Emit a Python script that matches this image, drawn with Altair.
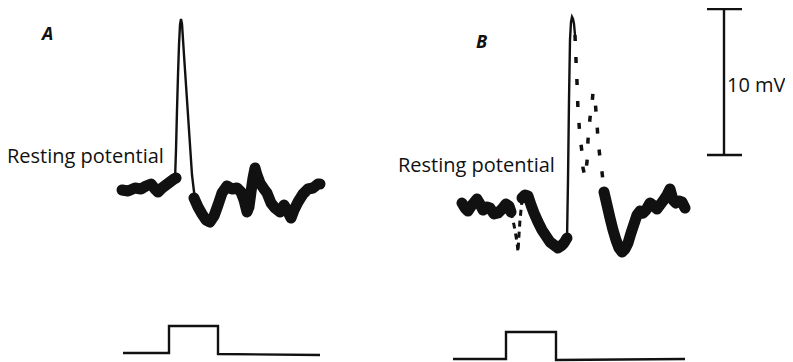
import altair as alt
import pandas as pd

# ---- traces (time axis in arbitrary units, potential in picture units) ----
a_base1_t = [122, 128, 135, 141, 146, 151, 155, 158, 162, 166, 170, 174, 176]
a_base1_v = [190, 191, 188, 189, 186, 184, 189, 192, 188, 185, 182, 179, 178]

a_spike_t = [175, 176, 177, 178, 179, 180, 181, 182, 184, 188, 192, 195]
a_spike_v = [180, 150, 110, 75, 45, 25, 19, 24, 55, 115, 175, 200]

a_base2_t = [194, 198, 202, 206, 210, 214, 218, 222, 227, 232, 237, 241, 244, 247, 249, 251, 253, 255,
             257, 260, 264, 267, 271, 275, 280, 284, 288, 291, 294, 298, 303, 308, 313, 318, 320]
a_base2_v = [198, 207, 214, 220, 222, 216, 205, 193, 186, 189, 188, 192, 200, 212, 207, 192, 178, 168,
             175, 183, 189, 193, 203, 208, 212, 205, 212, 218, 210, 202, 194, 189, 188, 184, 184]

b_base1_t = [462, 465, 468, 472, 477, 480, 483, 487, 490, 494, 498, 502, 506, 509, 511]
b_base1_v = [203, 208, 211, 205, 199, 204, 210, 207, 208, 214, 213, 209, 204, 206, 212]

b_fast_t = [511, 514, 517, 518, 519, 520, 522]
b_fast_v = [212, 225, 242, 252, 235, 220, 200]

b_base2_t = [522, 525, 528, 531, 534, 538, 542, 546, 550, 554, 558, 561, 564, 567]
b_base2_v = [198, 195, 196, 205, 213, 222, 230, 236, 242, 245, 248, 246, 243, 238]

b_spike_t = [567, 568, 569, 570, 571, 572, 573, 574, 575]
b_spike_v = [240, 180, 100, 40, 22, 17, 19, 24, 35]

b_dots_t = [575, 576, 577, 578, 580, 582, 583, 585, 587, 588, 590, 592, 593, 595, 596, 597, 598, 600, 602, 604]
b_dots_v = [35, 60, 82, 110, 137, 152, 168, 177, 162, 140, 118, 105, 92, 98, 112, 123, 140, 158, 172, 190]

b_base3_t = [604, 607, 610, 613, 616, 619, 622, 625, 628, 631, 634, 637, 640, 643, 646, 650, 654, 657,
             660, 663, 667, 670, 673, 676, 679, 682, 685]
b_base3_v = [192, 205, 218, 230, 240, 248, 252, 249, 243, 233, 224, 215, 211, 213, 210, 203, 206, 209,
             205, 201, 195, 189, 200, 203, 201, 202, 208]

# stimulus steps
a_step_t = [123, 169, 169, 218, 218, 320]
a_step_v = [353, 353, 326, 326, 354, 355]
b_step_t = [453, 506, 506, 556, 556, 685]
b_step_v = [359, 359, 332, 332, 360, 359]

# 10 mV calibration bar
cal_t = [724, 724]
cal_v = [9, 155]
cap_t = [707, 742]

# labels (anchored at text baseline)
label_text = ["A", "B", "Resting potential", "Resting potential", "10 mV"]
label_t = [42, 476, 7, 398, 727]
label_v = [40, 48, 163, 172, 92]


def seg(name, ts, vs):
    return pd.DataFrame({"seg": name, "o": range(len(ts)), "t": ts, "v": vs})


thick = pd.concat([seg("a1", a_base1_t, a_base1_v), seg("a2", a_base2_t, a_base2_v),
                   seg("b1", b_base1_t, b_base1_v), seg("b2", b_base2_t, b_base2_v),
                   seg("b3", b_base3_t, b_base3_v)])
thin = pd.concat([seg("as", a_spike_t, a_spike_v), seg("bs", b_spike_t, b_spike_v),
                  seg("sa", a_step_t, a_step_v), seg("sb", b_step_t, b_step_v),
                  seg("cal", cal_t, cal_v),
                  seg("cap1", cap_t, [cal_v[0]] * 2), seg("cap2", cap_t, [cal_v[1]] * 2)])
fast = seg("bf", b_fast_t, b_fast_v)
dots = seg("bd", b_dots_t, b_dots_v)
labels = pd.DataFrame({"txt": label_text, "t": label_t, "v": label_v})

X = alt.X("t:Q", scale=alt.Scale(domain=[8, 785]), axis=None)
Y = alt.Y("v:Q", scale=alt.Scale(domain=[8, 362], reverse=True), axis=None)
INK = "#111111"

thick_l = alt.Chart(thick).mark_line(color=INK, strokeWidth=11, strokeJoin="round", strokeCap="round").encode(
    x=X, y=Y, detail="seg:N", order="o:Q")
thin_l = alt.Chart(thin).mark_line(color=INK, strokeWidth=2.4).encode(
    x=X, y=Y, detail="seg:N", order="o:Q")
fast_l = alt.Chart(fast).mark_line(color=INK, strokeWidth=3, strokeDash=[6, 5]).encode(
    x=X, y=Y, detail="seg:N", order="o:Q")
dots_l = alt.Chart(dots).mark_line(color=INK, strokeWidth=3.5, strokeDash=[6, 16]).encode(
    x=X, y=Y, detail="seg:N", order="o:Q")

big = labels[labels.txt.str.len() > 1]
small = labels[labels.txt.str.len() == 1]
text_l = alt.Chart(big).mark_text(align="left", baseline="alphabetic", font="Open Sans", fontSize=20,
                                  fontWeight=500, color=INK).encode(
    x=X, y=Y, text="txt:N")
ab_l = alt.Chart(small).mark_text(align="left", baseline="alphabetic", font="Open Sans", fontSize=18,
                                  fontStyle="italic", fontWeight="bold", color=INK).encode(
    x=X, y=Y, text="txt:N")

chart = alt.layer(thick_l, thin_l, fast_l, dots_l, text_l, ab_l).properties(
    width=777, height=354, padding=0, background="white",
    autosize=alt.AutoSizeParams(type="none")
).configure_view(stroke=None)

chart.save("out.html", embed_options={"renderer": "svg", "actions": False})
